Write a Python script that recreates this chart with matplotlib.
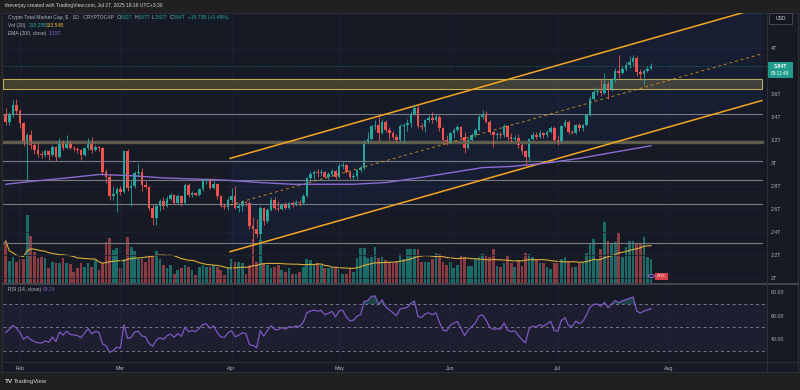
import numpy as np
import pandas as pd
import matplotlib
matplotlib.use("Agg")
import matplotlib.pyplot as plt
import matplotlib.dates as mdates
from matplotlib.lines import Line2D
from matplotlib.patches import Rectangle, Circle

plt.rcParams['font.family'] = ['Liberation Sans', 'DejaVu Sans']

# --- values: prices in trillions USD, volume in billions
start_day = "2025-01-28"
first_open = 3.43

closes = [
    3.36, 3.42, 3.50, 3.45, 3.35, 3.19, 3.24, 3.16, 3.11, 3.08,
    3.07, 3.10, 3.07, 3.14, 3.05, 3.19, 3.13, 3.19, 3.13, 3.12,
    3.11, 3.07, 3.13, 3.19, 3.11, 3.14, 3.13, 2.92, 2.88, 2.71,
    2.73, 2.77, 2.75, 3.10, 2.78, 2.80, 2.91, 2.92, 2.81, 2.79,
    2.61, 2.52, 2.63, 2.67, 2.63, 2.69, 2.72, 2.65, 2.71, 2.65,
    2.81, 2.72, 2.74, 2.72, 2.77, 2.84, 2.85, 2.78, 2.82, 2.71,
    2.63, 2.62, 2.68, 2.71, 2.61, 2.63, 2.66, 2.65, 2.45, 2.43,
    2.38, 2.61, 2.50, 2.59, 2.68, 2.61, 2.60, 2.64, 2.61, 2.65,
    2.64, 2.66, 2.65, 2.71, 2.87, 2.90, 2.92, 2.91, 2.92, 2.88,
    2.90, 2.93, 2.88, 2.97, 2.98, 2.92, 2.88, 2.89, 2.94, 2.96,
    3.19, 3.21, 3.32, 3.33, 3.26, 3.36, 3.29, 3.26, 3.23, 3.20,
    3.32, 3.33, 3.35, 3.43, 3.48, 3.32, 3.31, 3.37, 3.39, 3.37,
    3.40, 3.30, 3.20, 3.19, 3.26, 3.29, 3.31, 3.23, 3.13, 3.20,
    3.24, 3.29, 3.40, 3.42, 3.36, 3.27, 3.24, 3.25, 3.24, 3.32,
    3.23, 3.21, 3.22, 3.16, 3.10, 3.05, 3.21, 3.24, 3.23, 3.26,
    3.24, 3.27, 3.30, 3.20, 3.19, 3.32, 3.36, 3.27, 3.26, 3.33,
    3.30, 3.33, 3.42, 3.56, 3.62, 3.63, 3.61, 3.69, 3.64, 3.72,
    3.80, 3.78, 3.82, 3.85, 3.88, 3.91, 3.79, 3.77, 3.80, 3.82,
    3.84,
]

highs = [
    3.48, 3.44, 3.55, 3.56, 3.47, 3.36, 3.26, 3.29, 3.18, 3.17,
    3.10, 3.12, 3.11, 3.16, 3.15, 3.22, 3.20, 3.24, 3.20, 3.15,
    3.14, 3.12, 3.14, 3.22, 3.23, 3.16, 3.15, 3.14, 2.95, 2.90,
    2.80, 2.79, 2.80, 3.11, 3.12, 2.84, 2.93, 3.00, 2.96, 2.84,
    2.80, 2.64, 2.65, 2.69, 2.70, 2.71, 2.74, 2.73, 2.73, 2.72,
    2.83, 2.83, 2.76, 2.75, 2.78, 2.86, 2.87, 2.87, 2.84, 2.83,
    2.72, 2.65, 2.70, 2.78, 2.80, 2.65, 2.68, 2.67, 2.67, 2.53,
    2.51, 2.63, 2.62, 2.61, 2.70, 2.70, 2.67, 2.65, 2.66, 2.66,
    2.67, 2.68, 2.68, 2.73, 2.88, 2.93, 2.94, 2.95, 2.95, 2.93,
    2.92, 2.95, 2.94, 3.00, 3.01, 2.99, 2.93, 2.91, 2.95, 2.98,
    3.20, 3.27, 3.33, 3.37, 3.40, 3.38, 3.37, 3.31, 3.28, 3.25,
    3.34, 3.35, 3.38, 3.45, 3.51, 3.51, 3.35, 3.38, 3.42, 3.44,
    3.43, 3.42, 3.31, 3.24, 3.27, 3.30, 3.33, 3.32, 3.27, 3.22,
    3.26, 3.30, 3.42, 3.46, 3.45, 3.37, 3.28, 3.27, 3.27, 3.34,
    3.33, 3.26, 3.24, 3.25, 3.17, 3.11, 3.22, 3.27, 3.27, 3.29,
    3.27, 3.29, 3.32, 3.32, 3.24, 3.33, 3.38, 3.37, 3.29, 3.34,
    3.35, 3.34, 3.43, 3.58, 3.66, 3.65, 3.72, 3.78, 3.71, 3.74,
    3.83, 3.94, 3.84, 3.88, 3.93, 3.94, 3.93, 3.82, 3.82, 3.84,
    3.87,
]

lows = [
    3.33, 3.33, 3.40, 3.43, 3.30, 3.15, 2.85, 3.12, 3.08, 3.05,
    3.04, 3.05, 3.03, 3.06, 3.02, 3.04, 3.11, 3.12, 3.12, 3.10,
    3.09, 3.03, 3.06, 3.11, 3.09, 3.10, 3.10, 2.90, 2.83, 2.68,
    2.68, 2.57, 2.72, 2.74, 2.76, 2.63, 2.78, 2.88, 2.76, 2.77,
    2.59, 2.46, 2.46, 2.58, 2.60, 2.62, 2.68, 2.64, 2.64, 2.63,
    2.64, 2.70, 2.70, 2.71, 2.71, 2.76, 2.82, 2.77, 2.77, 2.69,
    2.62, 2.60, 2.59, 2.66, 2.60, 2.57, 2.58, 2.63, 2.43, 2.31,
    2.36, 2.33, 2.46, 2.48, 2.58, 2.59, 2.58, 2.59, 2.60, 2.60,
    2.62, 2.63, 2.63, 2.64, 2.70, 2.85, 2.86, 2.88, 2.89, 2.87,
    2.86, 2.89, 2.86, 2.87, 2.95, 2.91, 2.86, 2.85, 2.86, 2.92,
    2.94, 3.17, 3.20, 3.29, 3.19, 3.25, 3.27, 3.20, 3.21, 3.18,
    3.19, 3.17, 3.28, 3.31, 3.42, 3.30, 3.29, 3.27, 3.36, 3.35,
    3.36, 3.28, 3.17, 3.16, 3.17, 3.22, 3.27, 3.21, 3.09, 3.12,
    3.19, 3.23, 3.28, 3.38, 3.35, 3.25, 3.14, 3.21, 3.22, 3.23,
    3.20, 3.18, 3.19, 3.13, 3.08, 2.97, 3.02, 3.20, 3.21, 3.22,
    3.22, 3.23, 3.26, 3.19, 3.16, 3.18, 3.31, 3.25, 3.25, 3.25,
    3.28, 3.28, 3.32, 3.41, 3.55, 3.59, 3.58, 3.60, 3.56, 3.63,
    3.70, 3.74, 3.77, 3.80, 3.83, 3.84, 3.76, 3.73, 3.68, 3.79,
    3.82,
]

volumes = [
    380, 198, 235, 183, 213, 213, 615, 420, 280, 220,
    230, 225, 128, 183, 174, 174, 225, 174, 165, 98,
    128, 174, 143, 174, 143, 204, 113, 174, 372, 402,
    295, 311, 128, 219, 417, 320, 285, 219, 219, 189,
    235, 250, 285, 219, 158, 128, 158, 82, 113, 128,
    158, 143, 113, 67, 143, 158, 143, 143, 158, 143,
    113, 67, 128, 210, 189, 189, 174, 82, 158, 393,
    189, 387, 174, 158, 128, 143, 158, 113, 97, 128,
    76, 76, 97, 143, 219, 204, 158, 174, 158, 128,
    128, 143, 128, 128, 82, 82, 128, 97, 225, 311,
    317, 225, 235, 320, 225, 235, 204, 189, 174, 189,
    256, 213, 302, 305, 305, 305, 189, 189, 189, 219,
    265, 256, 189, 158, 189, 128, 158, 244, 235, 152,
    152, 219, 235, 259, 241, 235, 302, 149, 143, 174,
    244, 174, 143, 204, 149, 271, 259, 229, 210, 174,
    174, 137, 125, 174, 174, 219, 229, 186, 143, 143,
    180, 189, 265, 350, 393, 204, 302, 555, 381, 356,
    372, 454, 235, 326, 381, 381, 363, 363, 411, 229,
    215,
]

# EMA(200) has no usable history in the window, so it is read off the chart
ema_dates = ["2025-01-28", "2025-02-04", "2025-02-14", "2025-02-23", "2025-03-04",
             "2025-03-13", "2025-03-31", "2025-04-09", "2025-04-18", "2025-05-05",
             "2025-05-14", "2025-05-23", "2025-06-02", "2025-06-10", "2025-06-18",
             "2025-06-28", "2025-07-07", "2025-07-16", "2025-07-27"]
ema_vals = [2.815, 2.84, 2.87, 2.90, 2.89, 2.87, 2.85, 2.83, 2.815, 2.815,
            2.83, 2.87, 2.92, 2.96, 2.97, 3.00, 3.04, 3.09, 3.15]

rsi_seed = (0.042, 0.05)   # avg gain / avg loss carried in from before the window

# drawings on the chart
levels = [3.423, 3.015, 2.848, 2.641, 2.307]
thick_level = 3.185
zone = (3.642, 3.734)
channel_dates = ["2025-03-31 14:00", "2025-08-26 22:00"]
channel_upper = [3.040, 4.354]
channel_lower = [2.229, 3.543]
last_price = 3.84

price_ticks = [2.0, 2.2, 2.4, 2.6, 2.8, 3.0, 3.2, 3.4, 3.6, 4.0]
rsi_ticks = [40, 60, 80]
month_ticks = ["2025-02-01", "2025-03-01", "2025-04-01", "2025-05-01",
               "2025-06-01", "2025-07-01", "2025-08-01"]
month_labels = ["Feb", "Mar", "Apr", "May", "Jun", "Jul", "Aug"]

# colours
BG = "#161a25"
FRAME = "#202020"
UP, DOWN = "#26a69a", "#ef5350"
VOL_UP, VOL_DOWN = "#1d6b66", "#8a3c42"
TXT = "#b2b5be"
PURPLE = "#7e57c2"

# --- derived series
dates = pd.date_range(start_day, periods=len(closes), freq="D")
x = mdates.date2num(dates)
c = np.array(closes)
o = np.concatenate([[first_open], c[:-1]])
h = np.array(highs)
l = np.array(lows)
v = np.array(volumes, dtype=float)
rising = c >= o

vol_ma = pd.Series(v).rolling(20, min_periods=1).mean()

chg = np.diff(c, prepend=np.nan)
gain = pd.Series(np.where(chg > 0, chg, 0.0))
loss = pd.Series(np.where(chg < 0, -chg, 0.0))
gain[0], loss[0] = rsi_seed
avg_gain = gain.ewm(alpha=1 / 14, adjust=False).mean()
avg_loss = loss.ewm(alpha=1 / 14, adjust=False).mean()
rsi = (100 - 100 / (1 + avg_gain / avg_loss)).to_numpy()

# --- layout in pixels of the 800x390 picture
W, H = 800, 390


def rect(x0, y0, x1, y1):
    return [x0 / W, 1 - y1 / H, (x1 - x0) / W, (y1 - y0) / H]


def fpt(px, py):
    return px / W, 1 - py / H


t0 = mdates.date2num(pd.Timestamp(start_day))
xlim = (t0 - 0.75, t0 + 212.35)

fig = plt.figure(figsize=(8, 3.9), dpi=100, facecolor=FRAME)

bg = fig.add_axes(rect(2, 13, 798, 372))
bg.set_facecolor(BG)
bg.set_xticks([])
bg.set_yticks([])
for s in bg.spines.values():
    s.set_color("#2a2e39")

vol_ax = fig.add_axes(rect(3, 13, 767, 282.5))
ax = fig.add_axes(rect(3, 13, 767, 282.5))
rsi_ax = fig.add_axes(rect(3, 284.5, 767, 362))
for a in (vol_ax, ax, rsi_ax):
    a.set_facecolor("none")
    a.set_xlim(*xlim)
    for s in a.spines.values():
        s.set_visible(False)

# volume overlay
vol_ax.bar(x, v, width=0.75, color=np.where(rising, VOL_UP, VOL_DOWN), linewidth=0)
vol_ax.plot(x, vol_ma, color="#d9ad3c", lw=0.8)
vol_ax.set_ylim(0, 2460)
vol_ax.axis("off")

# price pane
ax.set_ylim(1.961, 4.304)
ax.set_xticks(mdates.date2num(pd.to_datetime(month_ticks)))
ax.tick_params(axis="x", length=0, labelbottom=False)
ax.yaxis.tick_right()
ax.set_yticks(price_ticks)
ax.set_yticklabels([f"{t:g}T" for t in price_ticks])
ax.tick_params(axis="y", length=0, pad=3, labelsize=3.8, colors=TXT)
ax.grid(True, color="#1e2230", lw=0.6)
ax.set_axisbelow(True)

line_end = (762 - 3) / 764
ax.axhspan(zone[0], zone[1], xmax=line_end, facecolor=(0.78, 0.70, 0.29, 0.25),
           edgecolor=(0.86, 0.77, 0.36, 0.85), lw=0.8)
for lv in levels:
    ax.axhline(lv, xmax=line_end, color="#787b86", lw=0.8)
ax.axhline(thick_level, xmax=line_end, color="#5f5d4c", lw=2.4)

cx = mdates.date2num(pd.to_datetime(channel_dates))
mid = (np.array(channel_upper) + np.array(channel_lower)) / 2
ax.fill_between(cx, channel_lower, channel_upper, color="#2962ff", alpha=0.06, lw=0)
ax.plot(cx, channel_upper, color="#f5a623", lw=1.1)
ax.plot(cx, channel_lower, color="#f5a623", lw=1.1)
ax.plot(cx, mid, color="#f5a623", lw=0.7, ls=(0, (3, 3)), alpha=0.75)

ax.plot(mdates.date2num(pd.to_datetime(ema_dates)), ema_vals, color="#8a6bd1", lw=1.0)

cols = np.where(rising, UP, DOWN)
ax.vlines(x, l, h, colors=cols, lw=0.6)
ax.bar(x, np.maximum(np.abs(c - o), 0.004), bottom=np.minimum(o, c), width=0.72,
       color=cols, linewidth=0)
ax.axhline(last_price, color=UP, lw=0.6, ls=(0, (1, 2)), alpha=0.8)

# RSI pane
rsi_ax.set_ylim(20.3, 86.7)
rsi_ax.axhspan(30, 70, color=PURPLE, alpha=0.08, lw=0)
for lv in (70, 50, 30):
    rsi_ax.axhline(lv, color="#787b86", lw=0.7, ls=(0, (3, 3)))
rsi_ax.fill_between(x, rsi, 70, where=rsi > 70, interpolate=True, color="#26a69a", alpha=0.3, lw=0)
rsi_ax.fill_between(x, rsi, 30, where=rsi < 30, interpolate=True, color="#ef5350", alpha=0.25, lw=0)
rsi_ax.plot(x, rsi, color=PURPLE, lw=0.9)
rsi_ax.yaxis.tick_right()
rsi_ax.set_yticks(rsi_ticks)
rsi_ax.set_yticklabels([f"{t:.2f}" for t in rsi_ticks])
rsi_ax.tick_params(axis="y", length=0, pad=3, labelsize=3.8, colors=TXT)
rsi_ax.set_xticks(mdates.date2num(pd.to_datetime(month_ticks)))
rsi_ax.set_xticklabels(month_labels)
rsi_ax.tick_params(axis="x", length=0, pad=3, labelsize=3.8, colors=TXT)
rsi_ax.grid(True, axis="x", color="#1e2230", lw=0.6)
rsi_ax.set_axisbelow(True)

# separators
for (x0, y0, x1, y1, col, w) in [(3, 283.5, 798, 283.5, "#4a4d57", 1.2),
                                  (3, 362.3, 798, 362.3, "#2a2e39", 0.8),
                                  (767, 13, 767, 372, "#2a2e39", 0.8)]:
    p0, p1 = fpt(x0, y0), fpt(x1, y1)
    fig.add_artist(Line2D([p0[0], p1[0]], [p0[1], p1[1]], color=col, lw=w))

# price label and currency box
fig.add_artist(Rectangle(fpt(768, 78), 25 / W, 16 / H, transform=fig.transFigure,
                         facecolor="#1f9c8c", edgecolor="none"))
fig.text(*fpt(780.5, 66.5), "3.84T", color="white", fontsize=3.8, weight="bold",
         ha="center", va="center")
fig.text(*fpt(780.5, 73.5), "09:11:48", color="white", fontsize=3.4, ha="center", va="center")
fig.add_artist(Rectangle(fpt(769, 24), 23 / W, 10.5 / H, transform=fig.transFigure,
                         facecolor="#131722", edgecolor="#4a4e59", lw=0.6))
fig.text(*fpt(780.5, 18.8), "USD", color="#d1d4dc", fontsize=3.6, ha="center", va="center")

# small event marker near the last bar
fig.add_artist(Circle(fpt(651.5, 276), 3 / W, transform=fig.transFigure,
                      facecolor="#2a2040", edgecolor="#9c7be0", lw=0.6))
fig.add_artist(Rectangle(fpt(655, 279.5), 13 / W, 7 / H, transform=fig.transFigure,
                         facecolor="#d8434a", edgecolor="none"))
fig.text(*fpt(661.5, 276), "2333", color="white", fontsize=2.8, ha="center", va="center")

# header and legend texts
fig.text(*fpt(5, 6), "theverjay created with TradingView.com, Jul 27, 2025 18:18 UTC+3:30",
         color="#d1d4dc", fontsize=3.6, va="center")
legend_items = [
    (8, 17.3, "Crypto Total Market Cap, $ · 1D · CRYPTOCAP", TXT),
    (116.5, 17.3, "O", TXT), (120, 17.3, "3.82T", UP),
    (134.5, 17.3, "H", TXT), (137.5, 17.3, "3.87T", UP),
    (152, 17.3, "L", TXT), (155, 17.3, "3.82T", UP),
    (169.5, 17.3, "C", TXT), (173, 17.3, "3.84T", UP),
    (188, 17.3, "+18.73B (+0.49%)", UP),
    (8, 25.3, "Vol (20)", TXT), (29, 25.3, "215.29B", UP), (46, 25.3, "333.54B", "#e0b23e"),
    (8, 33.3, "EMA (200, close)", TXT), (49, 33.3, "3.15T", "#8a6bd1"),
    (8, 289.5, "RSI (14, close)", TXT), (43, 289.5, "69.24", PURPLE),
]
for px, py, s, col in legend_items:
    fig.text(*fpt(px, py), s, color=col, fontsize=3.6, va="center")

fig.text(*fpt(5, 381.5), "TV", color="#d1d4dc", fontsize=4.6, weight="bold", va="center")
fig.text(*fpt(14, 381.5), "TradingView", color="#d1d4dc", fontsize=4.3, va="center")

fig.savefig("out.png", dpi=100, facecolor=FRAME)
